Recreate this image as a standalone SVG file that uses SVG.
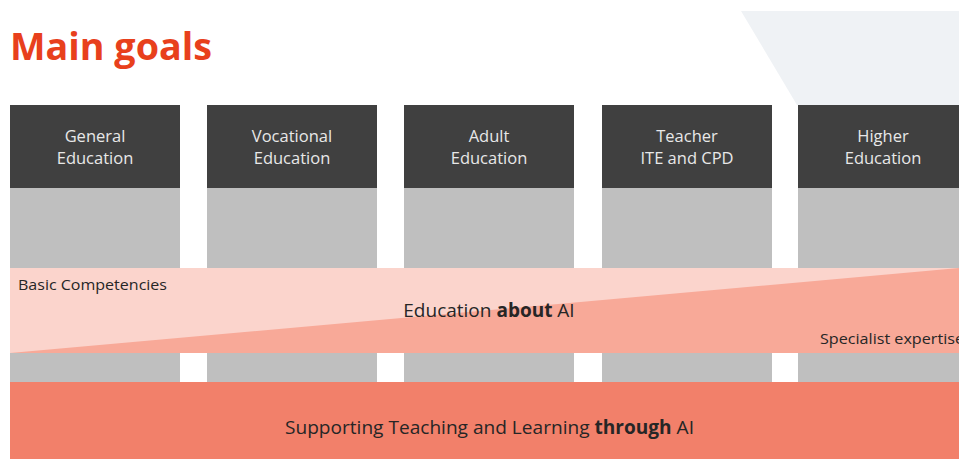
<svg xmlns="http://www.w3.org/2000/svg" width="959" height="459" viewBox="0 0 959 459">
  <style>
    .hdr { fill: #404040; }
    .col { fill: #BFBFBF; }
    .hdr-text { font-family: "Open Sans", "Noto Sans", sans-serif; font-size: 16.5px; fill: #E8E8E8; text-anchor: middle; }
    .lbl { font-family: "Open Sans", "Noto Sans", sans-serif; fill: #262626; }
  </style>
  <rect width="959" height="459" fill="#FFFFFF"/>
  <!-- decorative backdrop -->
  <polygon points="741,11 959,11 959,105 797,105" fill="#EFF2F5"/>
  <text x="10" y="60" font-family="'Open Sans', 'Noto Sans', sans-serif" font-size="37" font-weight="bold" fill="#E8401C" textLength="202" lengthAdjust="spacingAndGlyphs">Main goals</text>

  <g id="general-education">
    <rect class="col" x="10" y="188" width="170" height="194"/>
    <rect class="hdr" x="10" y="105" width="170" height="83"/>
    <text class="hdr-text" x="95" y="142">General</text>
    <text class="hdr-text" x="95" y="164">Education</text>
  </g>
  <g id="vocational-education">
    <rect class="col" x="207" y="188" width="170" height="194"/>
    <rect class="hdr" x="207" y="105" width="170" height="83"/>
    <text class="hdr-text" x="292" y="142">Vocational</text>
    <text class="hdr-text" x="292" y="164">Education</text>
  </g>
  <g id="adult-education">
    <rect class="col" x="404" y="188" width="170" height="194"/>
    <rect class="hdr" x="404" y="105" width="170" height="83"/>
    <text class="hdr-text" x="489" y="142">Adult</text>
    <text class="hdr-text" x="489" y="164">Education</text>
  </g>
  <g id="teacher-education">
    <rect class="col" x="602" y="188" width="170" height="194"/>
    <rect class="hdr" x="602" y="105" width="170" height="83"/>
    <text class="hdr-text" x="687" y="142">Teacher</text>
    <text class="hdr-text" x="687" y="164">ITE and CPD</text>
  </g>
  <g id="higher-education">
    <rect class="col" x="798" y="188" width="161" height="194"/>
    <rect class="hdr" x="798" y="105" width="161" height="83"/>
    <text class="hdr-text" x="883" y="142">Higher</text>
    <text class="hdr-text" x="883" y="164">Education</text>
  </g>

  <g id="education-about-ai">
    <rect x="10" y="268" width="949" height="85" fill="#F8A998"/>
    <polygon points="10,268 959,268 10,353" fill="#FBD4CC"/>
    <text class="lbl" x="18" y="290" font-size="15" textLength="149" lengthAdjust="spacingAndGlyphs">Basic Competencies</text>
    <text class="lbl" x="820" y="344" font-size="15" textLength="144" lengthAdjust="spacingAndGlyphs">Specialist expertise</text>
    <text class="lbl" x="489" y="317" font-size="19" text-anchor="middle">Education <tspan font-weight="bold">about</tspan> AI</text>
  </g>

  <g id="through-ai">
    <rect x="10" y="382" width="949" height="77" fill="#F2806A"/>
    <text class="lbl" x="285" y="434" font-size="19" textLength="409" lengthAdjust="spacingAndGlyphs">Supporting Teaching and Learning <tspan font-weight="bold">through</tspan> AI</text>
  </g>

  <g id="connectors"></g>
</svg>
